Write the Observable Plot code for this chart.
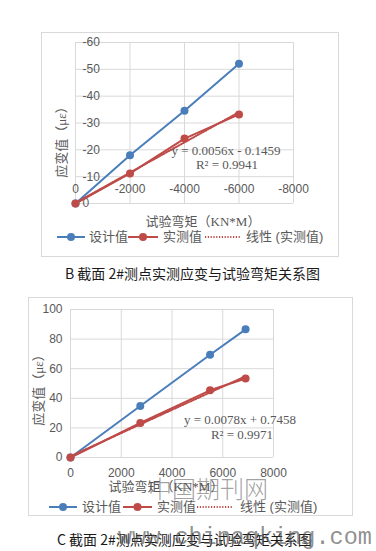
<!DOCTYPE html>
<html><head><meta charset="utf-8">
<script src="https://cdn.jsdelivr.net/npm/d3@7"></script>
<script src="https://cdn.jsdelivr.net/npm/@observablehq/plot@0.6"></script>
<style>
html,body{margin:0;padding:0;background:#fff;}
body{width:376px;height:551px;position:relative;overflow:hidden;font-family:"Liberation Sans","Noto Sans CJK SC",sans-serif;}
.abs{position:absolute;white-space:nowrap;}
.box{position:absolute;border:1px solid #d9d9d9;box-sizing:border-box;}
.gray{color:#595959;}
.eq{font-family:"Liberation Serif","Noto Sans CJK SC",serif;font-size:13px;line-height:14px;transform:translate(-50%,-50%);text-align:center;}
.ytitle{font-family:"Liberation Serif","Noto Sans CJK SC",sans-serif;font-size:13px;line-height:14px;transform:translate(-50%,-50%) rotate(-90deg);}
.xtitle{font-family:"Liberation Serif","Noto Sans CJK SC",sans-serif;font-size:13px;line-height:14px;transform:translate(-50%,-50%);}
.leg{font-size:13px;line-height:16px;transform:translateY(-50%);}
.cap{font-family:"Noto Sans CJK SC",sans-serif;font-size:14px;line-height:16px;color:#1a1a1a;transform:translateY(-50%);}
</style>
</head><body>
<script>
// ---- data ----
const seriesNames = ["设计值", "实测值", "线性 (实测值)"];
const yTitle = "应变值（με）";
const xTitle = "试验弯矩（KN*M）";

// B section
const momentB = [0, -2000, -4000, -6000];
const designB = [0, -18, -34.6, -52.1];
const measuredB = [0, -11.2, -24.2, -33.2];
const xTicksB = [0, -2000, -4000, -6000, -8000];
const yTicksB = [0, -10, -20, -30, -40, -50, -60];
const eqB = ["y = 0.0056x - 0.1459", "R² = 0.9941"];
const captionB = "B 截面 2#测点实测应变与试验弯矩关系图";

// C section
const momentC = [0, 2750, 5500, 6900];
const designC = [0, 34.8, 69.4, 86.6];
const measuredC = [0, 23.3, 45.4, 53.4];
const xTicksC = [0, 2000, 4000, 6000, 8000];
const yTicksC = [0, 20, 40, 60, 80, 100];
const eqC = ["y = 0.0078x + 0.7458", "R² = 0.9971"];
const captionC = "C 截面 2#测点实测应变与试验弯矩关系图";

const BLUE = "#4a7ebb";
const RED = "#be4b48";
const GRID = "#d9d9d9";

function el(cls, left, top, html, extra) {
  const d = document.createElement("div");
  d.className = "abs " + cls;
  d.style.left = left + "px";
  d.style.top = top + "px";
  if (extra) Object.assign(d.style, extra);
  d.innerHTML = html;
  document.body.appendChild(d);
  return d;
}

function makeChart(o) {
  const d = o.xs.map((x, i) => ({x, y: o.design[i]}));
  const m = o.xs.map((x, i) => ({x, y: o.measured[i]}));
  const svg = Plot.plot({
    width: o.width, height: o.height,
    marginLeft: o.ml, marginRight: o.mr, marginTop: o.mt, marginBottom: o.mb,
    x: {domain: o.xDomain},
    y: {domain: o.yDomain},
    style: {fontSize: "12px", fontFamily: "Liberation Sans, sans-serif", color: "#595959", background: "transparent", overflow: "visible"},
    marks: [
      Plot.gridX(o.xTicks, {stroke: GRID, strokeOpacity: 1}),
      Plot.gridY(o.yTicks, {stroke: GRID, strokeOpacity: 1}),
      Plot.axisX(o.xTicks, {anchor: "bottom", tickSize: 0, label: null, tickFormat: v => String(v), ...o.xAxis}),
      Plot.axisY(o.yTicks, {anchor: "left", tickSize: 0, label: null, tickFormat: v => String(v), ...o.yAxis}),
      Plot.line(d, {x: "x", y: "y", stroke: BLUE, strokeWidth: 2}),
      Plot.line(m, {x: "x", y: "y", stroke: RED, strokeWidth: 2}),
      Plot.linearRegressionY(m, {x: "x", y: "y", stroke: RED, strokeWidth: 2, strokeDasharray: "1.2 1.6", ci: 0}),
      Plot.dot(d, {x: "x", y: "y", r: 4, fill: BLUE}),
      Plot.dot(m, {x: "x", y: "y", r: 4, fill: RED})
    ]
  });
  svg.style.position = "absolute";
  svg.style.left = o.left + "px";
  svg.style.top = o.top + "px";
  document.body.appendChild(svg);
}

function symbol(x0, x1, y, color, kind) {
  const w = x1 - x0;
  const s = kind === "dot"
    ? `<svg width="${w}" height="10" style="display:block"><line x1="0" y1="5" x2="${w}" y2="5" stroke="${color}" stroke-width="2" stroke-dasharray="1.2 1.6"/></svg>`
    : `<svg width="${w}" height="10" style="display:block"><line x1="0" y1="5" x2="${w}" y2="5" stroke="${color}" stroke-width="2"/><circle cx="${w/2}" cy="5" r="4" fill="${color}"/></svg>`;
  el("", x0, y - 5, s);
}

function legend(y, pos) {
  symbol(pos[0], pos[1], y, BLUE, "line");
  el("leg gray", pos[2], y, seriesNames[0]);
  symbol(pos[3], pos[4], y, RED, "line");
  el("leg gray", pos[5], y, seriesNames[1]);
  symbol(pos[6], pos[7], y, RED, "dot");
  el("leg gray", pos[8], y, seriesNames[2]);
}

// ---- Chart B ----
el("box", 41, 32, "", {width: "298px", height: "225px"});
makeChart({
  xs: momentB, design: designB, measured: measuredB,
  xDomain: [0, -8000], yDomain: [0, -60], xTicks: xTicksB, yTicks: yTicksB,
  width: 298, height: 225, ml: 34, mr: 46, mt: 10, mb: 54, left: 41, top: 32,
  xAxis: {tickPadding: 3, dy: -22},
  yAxis: {tickPadding: 0, textAnchor: "start", dx: 7}
});
el("ytitle gray", 61.5, 139, yTitle);
el("eq gray", 226, 151, eqB[0]);
el("eq gray", 227, 165, eqB[1]);
el("xtitle gray", 203, 222, xTitle);
legend(237, [57, 85, 89, 128, 158, 163, 205, 240, 246]);
el("cap", 65, 273, captionB);

// ---- Chart C ----
el("box", 28, 297, "", {width: "325px", height: "219px"});
makeChart({
  xs: momentC, design: designC, measured: measuredC,
  xDomain: [0, 8000], yDomain: [0, 100], xTicks: xTicksC, yTicks: yTicksC,
  width: 325, height: 219, ml: 42, mr: 80, mt: 12, mb: 59, left: 28, top: 297,
  xAxis: {tickPadding: 3, dy: 8},
  yAxis: {tickPadding: 8}
});
el("ytitle gray", 39, 386.5, yTitle);
el("eq gray", 240, 420, eqC[0]);
el("eq gray", 242, 435, eqC[1]);
el("xtitle gray", 166, 487, xTitle);
legend(507, [49, 77, 82, 123, 152, 157, 197, 233, 240]);
el("cap", 57, 539, captionC);

// watermark
el("", 148, 474, "中国期刊网", {fontFamily: "Noto Sans CJK SC", fontWeight: "300", fontSize: "24px", lineHeight: "28px", color: "rgba(80,80,80,0.55)"});
el("", 118, 526, "www.chinaqking.com", {fontFamily: "Liberation Mono", fontSize: "23.5px", lineHeight: "24px", color: "rgba(80,80,80,0.65)"});
</script>
</body></html>
